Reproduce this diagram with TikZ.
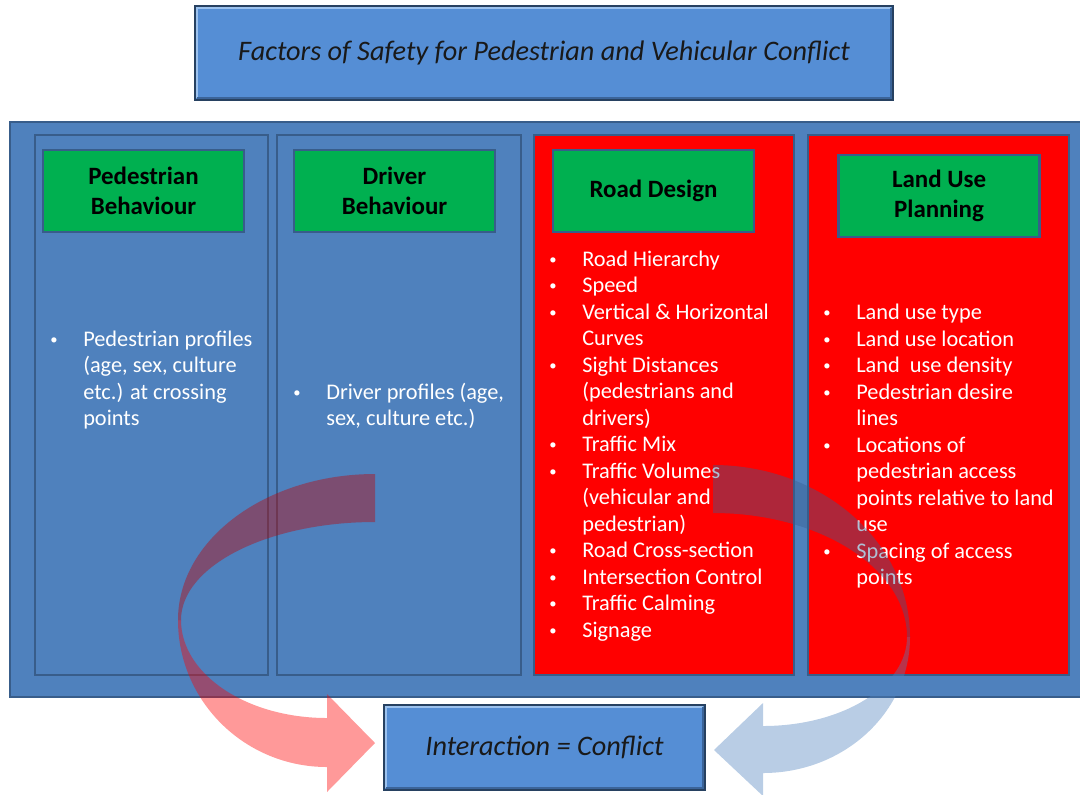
\documentclass[tikz,border=0pt]{standalone}
\usepackage{fontspec}
\setmainfont{Carlito}

\definecolor{frameblue}{HTML}{4F81BD}
\definecolor{edgeblue}{HTML}{385D8A}
\definecolor{titleblue}{HTML}{558ED5}
\definecolor{headgreen}{HTML}{00B050}
\definecolor{colred}{HTML}{FF0000}
\definecolor{darkred}{HTML}{C00000}
\definecolor{darkblue}{HTML}{365F91}
\definecolor{bevlight}{HTML}{9CC2EE}
\definecolor{bevdark}{HTML}{3B6499}

\newcommand{\pxu}{0.75pt}
\newcommand{\bul}{\makebox[24.75pt][l]{\raisebox{1.2pt}{\fontsize{11}{11}\selectfont\textbullet}}}
\newcommand{\bevel}[1]{%
  \draw[bevlight, line width=1.5pt] ([shift={(-2pt,-2pt)}]#1.north east) -- ([shift={(2pt,-2pt)}]#1.north west) -- ([shift={(2pt,2pt)}]#1.south west);
  \draw[bevdark, line width=1.5pt] ([shift={(2pt,2pt)}]#1.south west) -- ([shift={(-2pt,2pt)}]#1.south east) -- ([shift={(-2pt,-2pt)}]#1.north east);}

\tikzset{
  bigbox/.style={fill=titleblue, draw=edgeblue!70!black, line width=1.2pt, inner sep=0pt,
    font=\fontsize{21.2}{25}\selectfont\itshape, text=black!90},
  framebox/.style={fill=frameblue, draw=edgeblue, line width=2pt},
  colbox/.style={fill=frameblue, draw=edgeblue, line width=2.2pt},
  headbox/.style={fill=headgreen, draw=edgeblue, line width=2.2pt, inner sep=0pt, align=center,
    minimum width=201*\pxu, minimum height=82*\pxu, font=\fontsize{18.7}{22.5}\selectfont\bfseries},
  listtext/.style={anchor=base west, inner sep=0pt, text=white, font=\fontsize{16.75}{19.875}\selectfont}
}

\begin{document}
\begin{tikzpicture}[x=0.75pt,y=-0.75pt]
\useasboundingbox (0,0) rectangle (1080,794);

% Titel
\node[bigbox, minimum width=698*\pxu, minimum height=94*\pxu] (title) at (544,53) {Factors of Safety for Pedestrian and Vehicular Conflict};
\bevel{title}

% Rahmen und Spalten
\draw[framebox] (10,122) rectangle (1090,697);
\draw[colbox] (35,135) rectangle (268,675);
\draw[colbox] (277,135) rectangle (521,675);
\draw[colbox, fill=colred] (534,135) rectangle (794,675);
\draw[colbox, fill=colred] (808,135) rectangle (1069,675);

% Ueberschriften
\node[headbox] (pedhead) at (143.5,191) {Pedestrian\\Behaviour};
\node[headbox] (drvhead) at (394.5,191) {Driver\\Behaviour};
\node[headbox] (roadhead) at (653.5,191) {Road Design};
\node[headbox] (landhead) at (939,196) {Land Use\\Planning};

% Listen
\node[listtext] (pedlist) at (50,346) {\begin{tabular}[t]{@{}l@{}l@{}}
  \bul & Pedestrian profiles\\
       & (age, sex, culture\\
       & etc.) at crossing\\
       & points
\end{tabular}};
\node[listtext] (drvlist) at (293,399) {\begin{tabular}[t]{@{}l@{}l@{}}
  \bul & Driver profiles (age,\\
       & sex, culture etc.)
\end{tabular}};
\node[listtext] (roadlist) at (549,266) {\begin{tabular}[t]{@{}l@{}l@{}}
  \bul & Road Hierarchy\\
  \bul & Speed\\
  \bul & Vertical \& Horizontal\\
       & Curves\\
  \bul & Sight Distances\\
       & (pedestrians and\\
       & drivers)\\
  \bul & Traffic Mix\\
  \bul & Traffic Volumes\\
       & (vehicular and\\
       & pedestrian)\\
  \bul & Road Cross-section\\
  \bul & Intersection Control\\
  \bul & Traffic Calming\\
  \bul & Signage
\end{tabular}};
\node[listtext] (landlist) at (823,319.5) {\begin{tabular}[t]{@{}l@{}l@{}}
  \bul & Land use type\\
  \bul & Land use location\\
  \bul & Land\ \ use density\\
  \bul & Pedestrian desire\\
       & lines\\
  \bul & Locations of\\
       & pedestrian access\\
       & points relative to land\\
       & use\\
  \bul & Spacing of access\\
       & points
\end{tabular}};

% Ergebnis
\node[bigbox, minimum width=321*\pxu, minimum height=85*\pxu] (result) at (544.5,747.5) {Interaction = Conflict};
\bevel{result}

% Pfeile
\fill[darkred, opacity=0.4] (375,474) arc[start angle=-90, end angle=-180, x radius=197, y radius=146]
  -- (181,620) arc[start angle=180, end angle=270, x radius=194, y radius=98] -- cycle;
\fill[colred, opacity=0.4] (178,620) arc[start angle=180, end angle=90, x radius=149, y radius=147]
  -- (327,792) -- (375,743) -- (327,694) -- (327,718)
  arc[start angle=90, end angle=180, x radius=146, y radius=98] -- cycle;
\fill[darkblue, opacity=0.4] (713,465) arc[start angle=-90, end angle=0, x radius=197, y radius=172]
  -- (907,637) arc[start angle=0, end angle=-90, x radius=194, y radius=124] -- cycle;
\fill[frameblue, opacity=0.4] (910,637) arc[start angle=0, end angle=90, x radius=147, y radius=136]
  -- (763,796) -- (714,750) -- (763,703) -- (763,726)
  arc[start angle=90, end angle=0, x radius=144, y radius=89] -- cycle;
\end{tikzpicture}
\end{document}
